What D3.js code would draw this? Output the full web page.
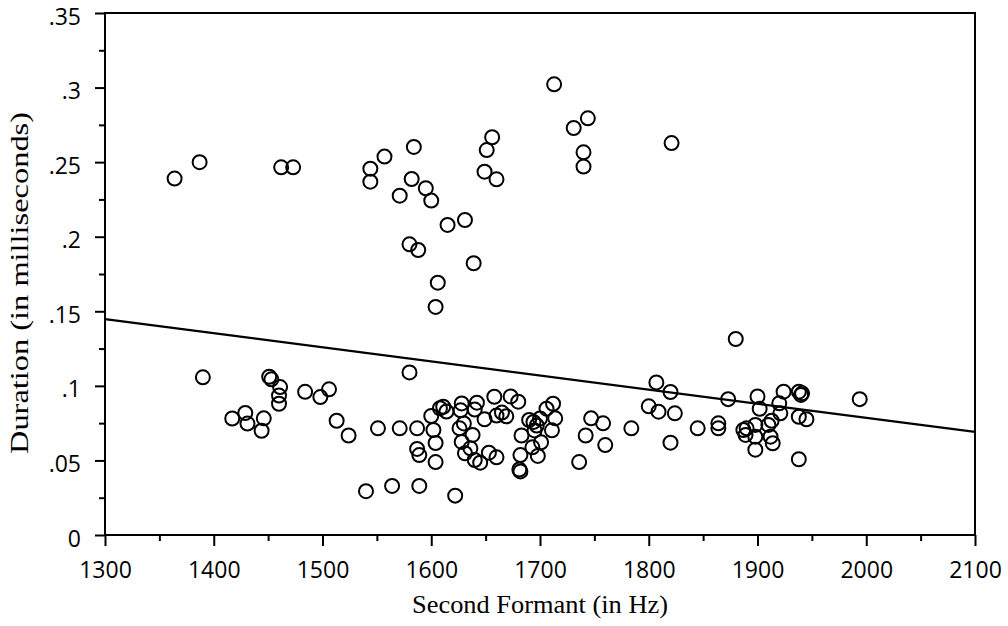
<!DOCTYPE html>
<html>
<head>
<meta charset="utf-8">
<script src="https://cdn.jsdelivr.net/npm/d3@7"></script>
<style>
    body { margin: 0; background: #fff; }
    .tick text { font-family: "Open Sans", sans-serif; font-size: 23px; fill: #000; }
    .tick line { stroke: #000; stroke-width: 2; }
    .title { font-family: "Liberation Serif", "Times New Roman", serif; font-size: 26px; fill: #000; }
</style>
</head>
<body>
<svg width="1008" height="626"></svg>
<script>
    // second formant (Hz) and duration for each token
    const f2 = [
        1364, 1387, 1462, 1473, 1544, 1544, 1557, 1584, 1582, 1571, 1595, 1600, 1580, 1588, 1615,
        1631, 1639, 1606, 1604, 1649, 1660, 1651, 1656, 1713, 1731, 1744, 1740, 1740, 1821,
        1390, 1451, 1453, 1461, 1460, 1460, 1484, 1498, 1506, 1417, 1429, 1431, 1446, 1444, 1513,
        1524, 1551, 1571, 1587, 1580, 1540, 1564, 1589, 1622, 1587, 1589, 1602, 1604, 1604, 1600,
        1608, 1611, 1614, 1628, 1627, 1630, 1626, 1628, 1636, 1631, 1640, 1645, 1642, 1640, 1638,
        1649, 1658, 1673, 1680, 1660, 1665, 1669, 1653, 1660, 1682, 1683, 1681, 1682, 1690, 1694,
        1697, 1695, 1700, 1693, 1701, 1698, 1706, 1712, 1714, 1711, 1747, 1758, 1742, 1760, 1736,
        1784, 1807, 1820, 1800, 1809, 1824, 1820, 1845, 1864, 1864, 1873, 1900, 1902, 1887, 1890,
        1889, 1898, 1898, 1898, 1913, 1912, 1914, 1920, 1921, 1924, 1938, 1940, 1941, 1938, 1945,
        1938, 1994, 1880, 1910
    ];
    const duration = [
        .239, .250, .2465, .2465, .2456, .2369, .2537, .2602, .2387, .2275, .2325, .2242, .1949, .1911, .2079,
        .2112, .1822, .1692, .1529, .2436, .2385, .2581, .2667, .3022, .2729, .2794, .2566, .2470, .2628,
        .1057, .1061, .1044, .0992, .0935, .0880, .0960, .0925, .0977, .0781, .0818, .0747, .0782, .0699, .0766,
        .0667, .0715, .0715, .0715, .1090, .0294, .0329, .0329, .0264, .0577, .0536, .0704, .0617, .0489, .0798,
        .0850, .0860, .0828, .0882, .0836, .0748, .0715, .0624, .0581, .0548, .0503, .0485, .0887, .0841, .0671,
        .0776, .0927, .0929, .0894, .0801, .0821, .0796, .0552, .0521, .0536, .0667, .0439, .0426, .0771, .0758,
        .0734, .0701, .0781, .0588, .0622, .0530, .0847, .0880, .0782, .0702, .0782, .0749, .0667, .0603, .0489,
        .0715, .1023, .0959, .0863, .0827, .0816, .0619, .0715, .0749, .0715, .0911, .0929, .0846, .0704, .0715,
        .0671, .0738, .0659, .0572, .0766, .0659, .0615, .0883, .0816, .0961, .0961, .0939, .0950, .0793, .0776,
        .0508, .0911, .1314, .0738
    ];

    // fitted regression line, end points
    const fitF2 = [1300, 2100];
    const fitDuration = [0.1448, 0.0691];

    const xTicks = [1300, 1400, 1500, 1600, 1700, 1800, 1900, 2000, 2100];
    const xMinor = [1350, 1450, 1550, 1650, 1750, 1850, 1950, 2050];
    const yTicks = [0, .05, .1, .15, .2, .25, .3, .35];
    const yMinor = [.025, .075, .125, .175, .225, .275, .325];
    const yLabels = ["0", ".05", ".1", ".15", ".2", ".25", ".3", ".35"];

    const svg = d3.select('svg');
    const margin = { top: 13, left: 105 };
    const width = 870, height = 522;

    const g = svg.append('g')
        .attr('transform', `translate(${margin.left},${margin.top})`);

    const x = d3.scaleLinear().domain([1300, 2100]).range([0, width]);
    const y = d3.scaleLinear().domain([0, 0.35]).range([height, 0]);

    // y axis
    const yAxisG = g.append('g')
        .call(d3.axisLeft(y).tickValues(yTicks).tickSize(10).tickPadding(14)
            .tickFormat((d, i) => yLabels[i]));
    yAxisG.selectAll('text').attr('dy', '0.48em');
    g.append('g')
        .call(d3.axisLeft(y).tickValues(yMinor).tickSize(6).tickFormat(''));

    // x axis
    g.append('g')
        .attr('transform', `translate(0,${height})`)
        .call(d3.axisBottom(x).tickValues(xTicks).tickSize(11).tickPadding(16)
            .tickFormat(d3.format('d')));
    g.append('g')
        .attr('transform', `translate(0,${height})`)
        .call(d3.axisBottom(x).tickValues(xMinor).tickSize(6).tickFormat(''));

    g.selectAll('.domain').remove();

    // frame
    g.append('rect')
        .attr('width', width)
        .attr('height', height)
        .attr('fill', 'none')
        .attr('stroke', '#000')
        .attr('stroke-width', 2);

    // regression line
    g.append('line')
        .attr('x1', x(fitF2[0])).attr('y1', y(fitDuration[0]))
        .attr('x2', x(fitF2[1])).attr('y2', y(fitDuration[1]))
        .attr('stroke', '#000')
        .attr('stroke-width', 2.2);

    // points
    g.selectAll('circle.pt').data(f2)
        .enter().append('circle')
        .attr('class', 'pt')
        .attr('cx', d => x(d))
        .attr('cy', (d, i) => y(duration[i]))
        .attr('r', 7)
        .attr('fill', 'none')
        .attr('stroke', '#000')
        .attr('stroke-width', 2);

    // axis titles
    svg.append('text')
        .attr('class', 'title')
        .attr('x', margin.left + width / 2)
        .attr('y', 613)
        .attr('text-anchor', 'middle')
        .attr('textLength', 256)
        .attr('lengthAdjust', 'spacingAndGlyphs')
        .text('Second Formant (in Hz)');

    svg.append('text')
        .attr('class', 'title')
        .attr('transform', `translate(28,283) rotate(-90)`)
        .attr('text-anchor', 'middle')
        .attr('textLength', 342)
        .attr('lengthAdjust', 'spacingAndGlyphs')
        .text('Duration (in milliseconds)');
</script>
</body>
</html>
